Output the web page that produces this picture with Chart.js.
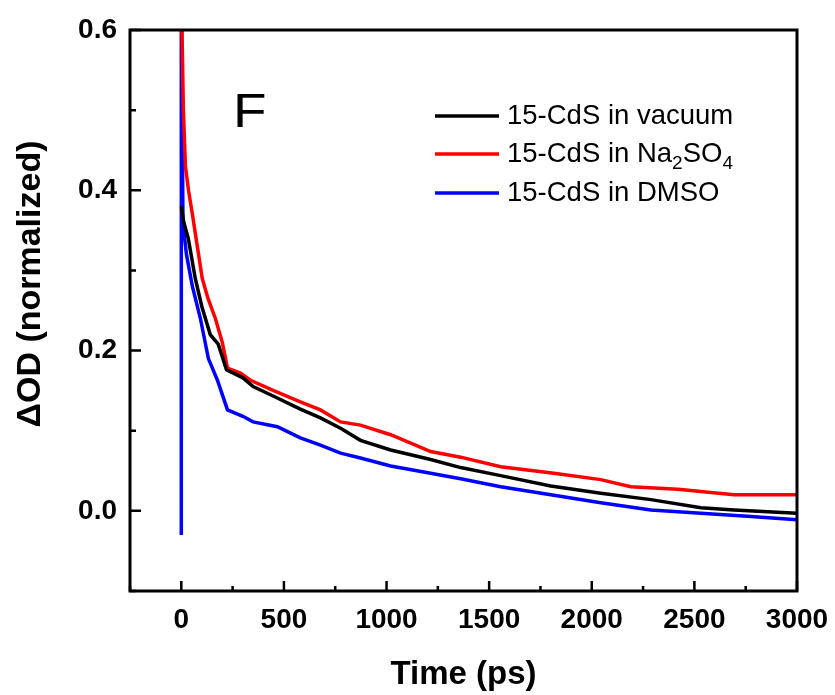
<!DOCTYPE html>
<html>
<head>
<meta charset="utf-8">
<script src="https://cdn.jsdelivr.net/npm/chart.js@4.4.1/dist/chart.umd.min.js"></script>
<style>
  html, body { margin: 0; padding: 0; background: #fff; }
  #wrap { width: 835px; height: 695px; }
</style>
</head>
<body>
<div id="wrap"><canvas id="myChart" width="835" height="695"></canvas></div>
<script>
// transient absorption decays, normalized
var vacuumTime = [0, 12, 34, 68, 100, 141, 180, 220, 300, 350, 450, 580, 678, 776, 873, 1020, 1215, 1361, 1556, 1800, 2044, 2288, 2532, 2693, 3000];
var vacuumOD   = [0.38, 0.36, 0.34, 0.29, 0.255, 0.22, 0.208, 0.176, 0.166, 0.155, 0.143, 0.127, 0.116, 0.103, 0.088, 0.076, 0.064, 0.054, 0.044, 0.031, 0.022, 0.014, 0.004, 0.001, -0.003];

var na2so4Time = [0, 10, 20, 35, 54, 78, 102, 130, 166, 200, 225, 288, 337, 450, 580, 678, 776, 873, 1020, 1215, 1361, 1556, 1815, 2044, 2190, 2420, 2693, 3000];
var na2so4OD   = [0.65, 0.5, 0.43, 0.40, 0.37, 0.33, 0.29, 0.265, 0.24, 0.21, 0.178, 0.172, 0.163, 0.15, 0.136, 0.126, 0.111, 0.107, 0.095, 0.074, 0.067, 0.055, 0.047, 0.039, 0.030, 0.027, 0.020, 0.020];

var dmsoTime = [0, 0, 8, 25, 54, 93, 132, 176, 225, 300, 350, 468, 580, 678, 776, 873, 1020, 1215, 1361, 1556, 1800, 2044, 2288, 2532, 2776, 3000];
var dmsoOD   = [-0.03, 0.65, 0.36, 0.32, 0.28, 0.24, 0.19, 0.163, 0.126, 0.118, 0.111, 0.105, 0.091, 0.082, 0.072, 0.066, 0.056, 0.047, 0.040, 0.030, 0.020, 0.010, 0.001, -0.003, -0.007, -0.011];

var xTicks = [0, 500, 1000, 1500, 2000, 2500, 3000];
var xMinorTicks = [-250, 250, 750, 1250, 1750, 2250, 2750];
var yTicks = [0.0, 0.2, 0.4, 0.6];
var yMinorTicks = [-0.1, 0.1, 0.3, 0.5];

var seriesNames = ['15-CdS in vacuum', '15-CdS in Na|2|SO|4', '15-CdS in DMSO'];
var seriesColors = ['#000000', '#ff0000', '#0000ff'];

function toPoints(t, v) {
    return t.map(function (x, i) { return { x: x, y: v[i] }; });
}

var FONT = "'Liberation Sans', Arial, sans-serif";

// frame, inward ticks, y title, panel letter and the legend (with subscripts)
var decorPlugin = {
    id: 'decor',
    afterDraw: function (chart) {
        var ctx = chart.ctx;
        var a = chart.chartArea;
        var xs = chart.scales.x, ys = chart.scales.y;
        ctx.save();
        ctx.strokeStyle = '#000';
        ctx.lineWidth = 3;
        ctx.strokeRect(a.left, a.top, a.right - a.left, a.bottom - a.top);

        ctx.lineWidth = 2.5;
        ctx.beginPath();
        xTicks.forEach(function (v) {
            var px = xs.getPixelForValue(v);
            ctx.moveTo(px, a.bottom); ctx.lineTo(px, a.bottom - 10);
        });
        xMinorTicks.forEach(function (v) {
            var px = xs.getPixelForValue(v);
            ctx.moveTo(px, a.bottom); ctx.lineTo(px, a.bottom - 5);
        });
        yTicks.forEach(function (v) {
            var py = ys.getPixelForValue(v);
            ctx.moveTo(a.left, py); ctx.lineTo(a.left + 11, py);
        });
        yMinorTicks.forEach(function (v) {
            var py = ys.getPixelForValue(v);
            ctx.moveTo(a.left, py); ctx.lineTo(a.left + 6, py);
        });
        ctx.stroke();

        ctx.fillStyle = '#000';

        // y axis title
        ctx.save();
        ctx.translate(31, 284);
        ctx.rotate(-Math.PI / 2);
        ctx.font = 'bold 34px ' + FONT;
        ctx.textAlign = 'center';
        ctx.textBaseline = 'middle';
        ctx.fillText('\u0394OD (normalized)', 0, 0);
        ctx.restore();

        ctx.save();
        ctx.translate(233, 127);
        ctx.scale(1.12, 1);
        ctx.font = '49px ' + FONT;
        ctx.textBaseline = 'alphabetic';
        ctx.fillText('F', 0, 0);
        ctx.restore();

        // legend
        var lx0 = 435, lx1 = 499, tx = 507;
        var rows = [116, 154, 193];
        seriesNames.forEach(function (name, i) {
            var y = rows[i];
            ctx.strokeStyle = seriesColors[i];
            ctx.lineWidth = 3.5;
            ctx.beginPath();
            ctx.moveTo(lx0, y); ctx.lineTo(lx1, y);
            ctx.stroke();
            ctx.fillStyle = '#000';
            var parts = name.split('|');
            var x = tx;
            parts.forEach(function (p, k) {
                var sub = k % 2 === 1;
                ctx.font = (sub ? '19px ' : '27.5px ') + FONT;
                ctx.textBaseline = 'middle';
                ctx.fillText(p, x, sub ? y + 10 : y);
                x += ctx.measureText(p).width;
            });
        });
        ctx.restore();
    }
};

var ctx = document.getElementById('myChart').getContext('2d');
var myChart = new Chart(ctx, {
    type: 'line',
    data: {
        datasets: [{
            label: '15-CdS in vacuum',
            data: toPoints(vacuumTime, vacuumOD),
            borderColor: seriesColors[0],
            borderWidth: 3.5,
            pointRadius: 0,
            fill: false,
            tension: 0
        }, {
            label: '15-CdS in Na2SO4',
            data: toPoints(na2so4Time, na2so4OD),
            borderColor: seriesColors[1],
            borderWidth: 3.5,
            pointRadius: 0,
            fill: false,
            tension: 0
        }, {
            label: '15-CdS in DMSO',
            data: toPoints(dmsoTime, dmsoOD),
            borderColor: seriesColors[2],
            borderWidth: 3.5,
            pointRadius: 0,
            fill: false,
            tension: 0
        }]
    },
    options: {
        responsive: false,
        maintainAspectRatio: false,
        animation: false,
        layout: { padding: { left: 0, top: 30, right: 38, bottom: 0 } },
        plugins: {
            legend: { display: false },
            tooltip: { enabled: false }
        },
        scales: {
            x: {
                type: 'linear',
                min: -250,
                max: 3000,
                grid: { display: false, drawTicks: false },
                border: { display: false },
                afterBuildTicks: function (scale) {
                    scale.ticks = xTicks.map(function (v) { return { value: v }; });
                },
                afterFit: function (scale) {
                    scale.height = 104;
                    scale.paddingLeft = 0;
                    scale.paddingRight = 0;
                },
                ticks: {
                    color: '#000',
                    padding: 12,
                    maxRotation: 0,
                    font: { family: FONT, size: 28, weight: 'bold' },
                    callback: function (v) { return String(v); }
                },
                title: {
                    display: true,
                    text: 'Time (ps)',
                    color: '#000',
                    padding: 0,
                    font: { family: FONT, size: 33, weight: 'bold' }
                }
            },
            y: {
                min: -0.1,
                max: 0.6,
                grid: { display: false, drawTicks: false },
                border: { display: false },
                afterBuildTicks: function (scale) {
                    scale.ticks = yTicks.map(function (v) { return { value: v }; });
                },
                afterFit: function (scale) {
                    scale.width = 130;
                    scale.paddingTop = 0;
                    scale.paddingBottom = 0;
                },
                ticks: {
                    color: '#000',
                    padding: 13,
                    font: { family: FONT, size: 28, weight: 'bold' },
                    callback: function (v) { return Number(v).toFixed(1); }
                },
                title: { display: false }
            }
        }
    },
    plugins: [decorPlugin]
});
</script>
</body>
</html>
